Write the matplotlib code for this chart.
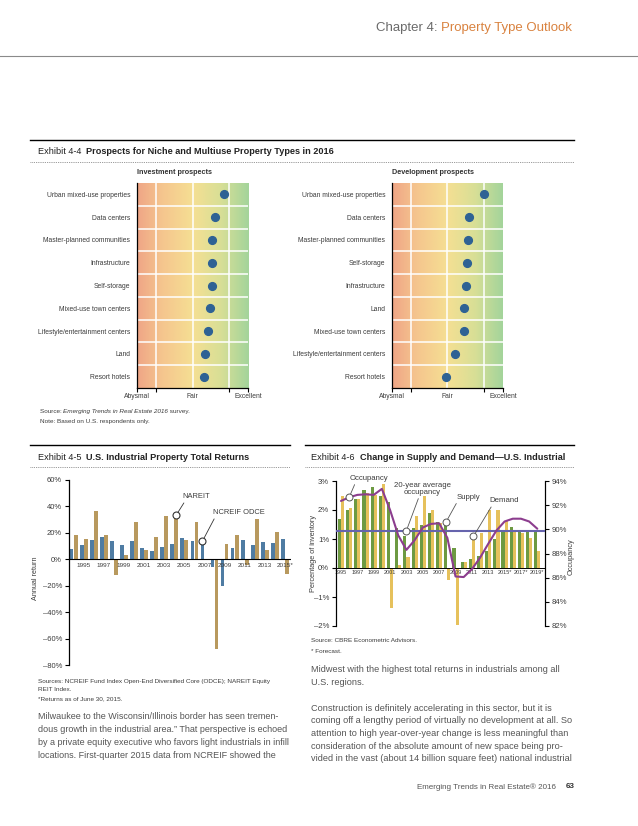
import numpy as np
import matplotlib
matplotlib.use("Agg")
import matplotlib.pyplot as plt
from matplotlib.colors import LinearSegmentedColormap

W, H = 638, 826

# Exhibit 4-4: prospects scores (1 = abysmal, 3 = fair, 5 = excellent)
inv_types = ["Urban mixed-use properties", "Data centers", "Master-planned communities",
             "Infrastructure", "Self-storage", "Mixed-use town centers",
             "Lifestyle/entertainment centers", "Land", "Resort hotels"]
inv_scores = [4.13, 3.81, 3.70, 3.69, 3.69, 3.64, 3.57, 3.44, 3.40]
dev_types = ["Urban mixed-use properties", "Data centers", "Master-planned communities",
             "Self-storage", "Infrastructure", "Land", "Mixed-use town centers",
             "Lifestyle/entertainment centers", "Resort hotels"]
dev_scores = [4.30, 3.79, 3.74, 3.70, 3.65, 3.59, 3.59, 3.28, 2.95]
scale_labels = ["Abysmal", "Fair", "Excellent"]
scale_pos = [1, 3, 5]

# Exhibit 4-5: total returns (%)
ret_years = list(range(1994, 2016))
ncreif = [8, 11, 14.3, 16.8, 14, 11, 13.8, 8.2, 6.2, 9, 11.3, 15.8, 14.2, 13.7,
          -5.5, -20.5, 8.2, 14.5, 10.5, 12.8, 12, 15]
nareit = [18, 15.5, 36.5, 18.5, -12, 3.5, 28, 7, 16.8, 32.5, 33.5, 14.8, 28.5, 0,
          -68, 11.5, 18.3, -4, 30.5, 7, 20.5, -11.5]
ret_labels = ["1995", "1997", "1999", "2001", "2003", "2005", "2007", "2009",
              "2011", "2013", "2015*"]

# Exhibit 4-6: supply / demand (% of inventory), occupancy (%)
sd_years = list(range(1995, 2020))
supply = [1.70, 1.99, 2.37, 2.69, 2.79, 2.49, 2.28, 1.39, 1.10, 1.39, 1.49, 1.89, 1.60,
          1.57, 0.70, 0.21, 0.30, 0.40, 0.60, 1.00, 1.32, 1.40, 1.28, 1.28, 1.28]
demand = [2.49, 2.08, 2.37, 2.58, 2.52, 2.90, -1.37, 0.12, 0.38, 1.80, 2.49, 1.99, 1.55,
          -0.40, -1.98, 0.21, 1.09, 1.20, 2.00, 2.00, 1.63, 1.27, 1.20, 1.02, 0.60]
occupancy = [92.35, 92.65, 92.85, 92.9, 92.85, 93.35, 91.6, 89.5, 88.3, 89.1, 90.15,
             90.45, 90.5, 89.3, 86.1, 86.05, 86.7, 87.65, 88.8, 89.9, 90.65, 90.88,
             90.88, 90.65, 90.05]
avg_occupancy = 89.9
sd_labels = ["1995", "1997", "1999", "2001", "2003", "2005", "2007", "2009", "2011",
             "2013", "2015*", "2017*", "2019*"]

SANS = ["Liberation Sans", "DejaVu Sans"]
TXT = "#3c3c3c"
BODY = "#555555"
LX = 37.5   # left column text
RX = 311    # right column text

fig = plt.figure(figsize=(W / 100, H / 100), dpi=100)
bg = fig.add_axes([0, 0, 1, 1])
bg.set_xlim(0, W)
bg.set_ylim(H, 0)
bg.axis("off")


def px_axes(l, t, r, b):
    return fig.add_axes([l / W, 1 - b / H, (r - l) / W, (b - t) / H])


def chain(x, y, parts, size, color=TXT):
    # parts: list of (text, weight, style)
    s, w, st = parts[0]
    t = bg.text(x, y, s, fontsize=size, family=SANS, weight=w, style=st,
                color=color, va="center", ha="left")
    for s, w, st in parts[1:]:
        t = bg.annotate(s, xy=(1, 0), xycoords=t, va="bottom", ha="left",
                        fontsize=size, family=SANS, weight=w, style=st, color=color)
    return t


# header
hdr = bg.text(572, 28, "Property Type Outlook", fontsize=9.5, family=SANS,
              color="#d9823f", ha="right", va="center")
bg.annotate("Chapter 4: ", xy=(0, 0), xycoords=hdr, va="bottom", ha="right",
            fontsize=9.5, family=SANS, color="#6a6a6a")
bg.plot([0, W], [56, 56], color="#8a8a8a", lw=0.8)

# section rules
bg.plot([30, 574], [140, 140], color="black", lw=1.0)
bg.plot([30, 574], [162, 162], color="#777777", lw=0.6, ls=(0, (1, 1.2)))
bg.plot([30, 290], [445, 445], color="black", lw=1.0)
bg.plot([305, 574], [445, 445], color="black", lw=1.0)
bg.plot([30, 290], [467, 467], color="#777777", lw=0.6, ls=(0, (1, 1.2)))
bg.plot([305, 574], [467, 467], color="#777777", lw=0.6, ls=(0, (1, 1.2)))

chain(LX, 152, [("Exhibit 4-4  ", "normal", "normal"),
                ("Prospects for Niche and Multiuse Property Types in 2016", "bold", "normal")],
      6.6, color="#222222")
chain(LX, 457, [("Exhibit 4-5  ", "normal", "normal"),
                ("U.S. Industrial Property Total Returns", "bold", "normal")],
      6.6, color="#222222")
chain(RX, 457, [("Exhibit 4-6  ", "normal", "normal"),
                ("Change in Supply and Demand\u2014U.S. Industrial", "bold", "normal")],
      6.6, color="#222222")

# ---------- Exhibit 4-4 ----------
grad = LinearSegmentedColormap.from_list(
    "prospect", [(0, "#efa586"), (0.22, "#f5c58e"), (0.5, "#f5df93"),
                 (0.75, "#d8df96"), (1, "#a3d49b")])


def prospects(ax, names, scores, title):
    n = len(names)
    rows = np.arange(n)
    ax.imshow(np.linspace(0, 1, 256)[None, :], cmap=grad, aspect="auto",
              extent=(1, 5, n - 0.5, -0.5), zorder=0)
    ax.set_xlim(1, 5)
    ax.set_ylim(n - 0.5, -0.5)
    for r in rows[:-1]:
        ax.axhline(r + 0.5, color="white", lw=1.1, zorder=1)
    for gx in (1.7, 3, 4.3):
        ax.axvline(gx, color="white", lw=1.1, zorder=1)
    ax.plot(scores, rows, "o", color="#2e6294", ms=5.6, zorder=3)
    for sp in ("top", "right"):
        ax.spines[sp].set_visible(False)
    for sp in ("left", "bottom"):
        ax.spines[sp].set_linewidth(0.9)
        ax.spines[sp].set_zorder(4)
    ax.set_yticks(rows)
    ax.set_yticklabels(names, fontsize=4.9, family=SANS, color=TXT)
    ax.tick_params(axis="y", length=0, pad=5)
    ax.set_xticks([1, 1.7, 4.3, 5])
    ax.set_xticklabels([])
    ax.tick_params(axis="x", length=3, width=0.8, direction="out")
    for lab, p in zip(scale_labels, scale_pos):
        ax.text(p, n - 0.5 + 0.2, lab, fontsize=4.9, family=SANS, color=TXT,
                ha="center", va="top")
    ax.text(0, 1.035, title, transform=ax.transAxes, fontsize=5.2, family=SANS,
            weight="bold", color="#333333", ha="left", va="bottom")


ax_inv = px_axes(137, 183, 248, 388)
prospects(ax_inv, inv_types, inv_scores, "Investment prospects")
ax_dev = px_axes(392, 183, 503, 388)
prospects(ax_dev, dev_types, dev_scores, "Development prospects")

chain(LX + 2, 411.5, [("Source: ", "normal", "normal"),
                      ("Emerging Trends in Real Estate 2016", "normal", "italic"),
                      (" survey.", "normal", "normal")], 4.6)
bg.text(LX + 2, 421.5, "Note: Based on U.S. respondents only.", fontsize=4.6, family=SANS,
        color=TXT, va="center")

# ---------- Exhibit 4-5 ----------
BLUE = "#4f7ca3"
GOLD = "#b8995e"
ax5 = px_axes(69, 480, 291, 665)
yrs = np.array(ret_years)
ax5.bar(yrs - 0.2, ncreif, 0.37, color=BLUE, zorder=2)
ax5.bar(yrs + 0.2, nareit, 0.37, color=GOLD, zorder=2)
ax5.set_xlim(1993.54, 2015.6)
ax5.set_ylim(-80, 60)
ax5.axhline(0, color="black", lw=0.8, zorder=3)
for sp in ("top", "right", "bottom"):
    ax5.spines[sp].set_visible(False)
ax5.spines["left"].set_linewidth(0.9)
ax5.set_yticks(range(-80, 61, 20))
ax5.set_yticklabels([("\u2013%d%%" % -v) if v < 0 else "%d%%" % v for v in range(-80, 61, 20)],
                    fontsize=5.5, family=SANS, color=TXT)
ax5.tick_params(axis="y", length=3, width=0.8, pad=2)
ax5.set_xticks([])
for lab in ret_labels:
    ax5.text(int(lab[:4]), -4.8, lab, fontsize=4.6, family=SANS, color=TXT,
             ha="center", va="center", zorder=4)
ax5.set_ylabel("Annual return", fontsize=5.2, family=SANS, color=TXT)
ax5.yaxis.set_label_coords(-0.133, 0.47)

i04 = ret_years.index(2004)
i07 = ret_years.index(2007)
ax5.plot([2004.2], [nareit[i04]], "o", mfc="white", mec="#333333", mew=0.8, ms=5, zorder=5)
ax5.plot([2006.8], [ncreif[i07]], "o", mfc="white", mec="#333333", mew=0.8, ms=5, zorder=5)
ax5.annotate("NAREIT", xy=(2004.2, nareit[i04]), xytext=(2004.8, 47.4),
             fontsize=5.4, family=SANS, color=TXT, va="center", ha="left",
             arrowprops=dict(arrowstyle="-", color="#333333", lw=0.6, shrinkA=0,
                             shrinkB=2.2, relpos=(0.12, 0)))
ax5.annotate("NCREIF ODCE", xy=(2006.8, ncreif[i07]), xytext=(2007.8, 35.3),
             fontsize=5.4, family=SANS, color=TXT, va="center", ha="left",
             arrowprops=dict(arrowstyle="-", color="#333333", lw=0.6, shrinkA=0,
                             shrinkB=2.2, relpos=(0.06, 0)))

bg.text(LX, 681, "Sources: NCREIF Fund Index Open-End Diversified Core (ODCE); NAREIT Equity",
        fontsize=4.6, family=SANS, color=TXT, va="center")
bg.text(LX, 689.5, "REIT Index.", fontsize=4.6, family=SANS, color=TXT, va="center")
bg.text(LX, 699, "*Returns as of June 30, 2015.", fontsize=4.6, family=SANS, color=TXT,
        va="center")

# ---------- Exhibit 4-6 ----------
GREEN = "#6d9a42"
YEL = "#e6c15c"
PURPLE = "#8c3d8e"
AVG = "#6664ad"
ax6 = px_axes(336, 481, 545, 626)
sy = np.array(sd_years)
ax6.bar(sy - 0.19, supply, 0.38, color=GREEN, zorder=2)
ax6.bar(sy + 0.19, demand, 0.38, color=YEL, zorder=2)
ax6.set_xlim(1994.39, 2019.94)
ax6.set_ylim(-2, 3)
ax6.axhline(0, color="black", lw=0.7, zorder=3)
for sp in ("top", "bottom"):
    ax6.spines[sp].set_visible(False)
ax6.set_yticks(range(-2, 4))
ax6.set_yticklabels([("\u2013%d%%" % -v) if v < 0 else "%d%%" % v for v in range(-2, 4)],
                    fontsize=5.6, family=SANS, color=TXT)
ax6.tick_params(axis="y", length=3, width=0.8, pad=2)
ax6.set_xticks([])
for lab in sd_labels:
    ax6.text(int(lab[:4]), -0.14, lab, fontsize=4.0, family=SANS, color=TXT,
             ha="center", va="center", zorder=4)
ax6.set_ylabel("Percentage of inventory", fontsize=5.3, family=SANS, color=TXT)
ax6.yaxis.set_label_coords(-0.092, 0.5)

ax6r = ax6.twinx()
ax6r.set_ylim(82, 94)
ax6r.axhline(avg_occupancy, color=AVG, lw=1.5, zorder=3)
ax6r.plot(sd_years, occupancy, color=PURPLE, lw=1.5, zorder=4, solid_capstyle="round")
for sp in ("top", "bottom"):
    ax6r.spines[sp].set_visible(False)
ax6r.set_yticks(range(82, 95, 2))
ax6r.set_yticklabels(["%d%%" % v for v in range(82, 95, 2)], fontsize=5.6, family=SANS,
                     color=TXT)
ax6r.tick_params(axis="y", length=3, width=0.8, pad=2)
ax6r.set_ylabel("Occupancy", fontsize=5.3, family=SANS, color=TXT)
ax6r.yaxis.set_label_coords(1.11, 0.48)

ring = dict(mfc="white", mec="#555555", mew=0.7, ms=5, zorder=6, clip_on=False)
line = dict(arrowstyle="-", color="#555555", lw=0.6, shrinkA=0, shrinkB=2.2)
ax6r.plot([1996], [occupancy[1]], "o", **ring)
ax6r.annotate("Occupancy", xy=(1996, occupancy[1]), xytext=(1996.1, 94.22),
              fontsize=5.6, family=SANS, color=TXT, va="center", ha="left",
              annotation_clip=False, arrowprops=dict(relpos=(0.15, 0), **line))
ax6r.plot([2003], [avg_occupancy], "o", **ring)
ax6r.annotate("20-year average\noccupancy", xy=(2003, avg_occupancy), xytext=(2004.93, 93.34),
              fontsize=5.6, family=SANS, color=TXT, va="center", ha="center",
              multialignment="center", linespacing=0.95,
              arrowprops=dict(relpos=(0.45, 0), **line))
# supply / demand callouts live on the twin axes (drawn above bars) but use the left scale
i08 = sd_years.index(2008)
i11 = sd_years.index(2011)
ax6r.plot([2008 - 0.19], [supply[i08]], "o", transform=ax6.transData, **ring)
ax6r.annotate("Supply", xy=(2008 - 0.19, supply[i08]), xycoords=ax6.transData,
              xytext=(2009.14, 2.44), textcoords=ax6.transData,
              fontsize=5.6, family=SANS, color=TXT, va="center", ha="left",
              arrowprops=dict(relpos=(0.05, 0), **line))
ax6r.plot([2011 + 0.19], [demand[i11]], "o", transform=ax6.transData, **ring)
ax6r.annotate("Demand", xy=(2011 + 0.19, demand[i11]), xycoords=ax6.transData,
              xytext=(2013.2, 2.32), textcoords=ax6.transData,
              fontsize=5.6, family=SANS, color=TXT, va="center", ha="left",
              arrowprops=dict(relpos=(0.1, 0), **line))

bg.text(RX, 640.7, "Source: CBRE Econometric Advisors.", fontsize=4.6, family=SANS,
        color=TXT, va="center")
bg.text(RX, 651.7, "* Forecast.", fontsize=4.6, family=SANS, color=TXT, va="center")

# ---------- body text ----------
left_body = ["Milwaukee to the Wisconsin/Illinois border has seen tremen-",
             "dous growth in the industrial area.\u201d That perspective is echoed",
             "by a private equity executive who favors light industrials in infill",
             "locations. First-quarter 2015 data from NCREIF showed the"]
for i, s in enumerate(left_body):
    bg.text(LX, 716.7 + 13 * i, s, fontsize=6.5, family=SANS, color=BODY, va="center")
right_body = ["Midwest with the highest total returns in industrials among all",
              "U.S. regions.", "",
              "Construction is definitely accelerating in this sector, but it is",
              "coming off a lengthy period of virtually no development at all. So",
              "attention to high year-over-year change is less meaningful than",
              "consideration of the absolute amount of new space being pro-",
              "vided in the vast (about 14 billion square feet) national industrial"]
for i, s in enumerate(right_body):
    bg.text(RX, 670 + 12.7 * i, s, fontsize=6.55, family=SANS, color=BODY, va="center")

bg.text(556, 787, "Emerging Trends in Real Estate\u00ae 2016", fontsize=5.8, family=SANS,
        color=BODY, ha="right", va="center")
bg.text(566, 787, "63", fontsize=5.8, family=SANS, weight="bold", color="#333333",
        ha="left", va="center")

fig.savefig("out.png", dpi=100)
